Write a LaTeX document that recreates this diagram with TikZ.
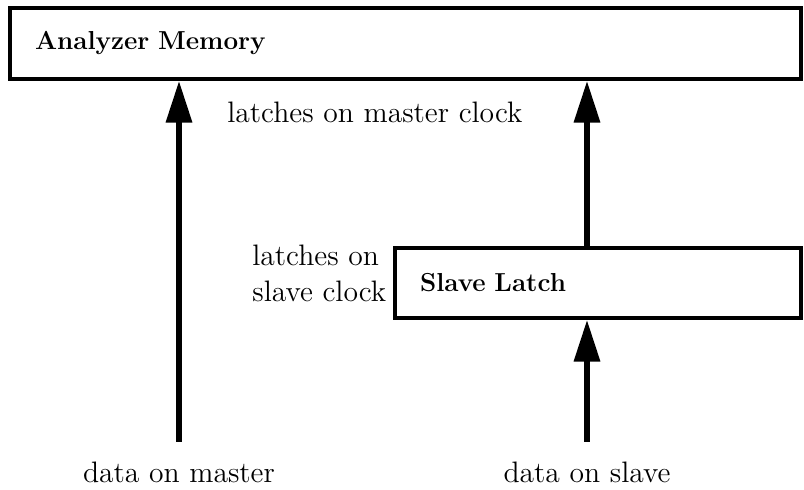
\documentclass[tikz,border=0pt]{standalone}
\usepackage{tikz}
\usetikzlibrary{arrows.meta}

\begin{document}
\begin{tikzpicture}[x=0.5pt, y=-0.5pt,
                    unit/.style={draw, line width=1.6pt, align=left, inner xsep=12.5pt,
                                 font=\fontsize{13}{15}\selectfont\bfseries},
                    note/.style={font=\fontsize{14.8}{18}\selectfont, inner sep=0pt},
                    flow/.style={line width=3.2pt, -{Triangle[width=12.5pt, length=21pt]}}]
                    \useasboundingbox (0,0) rectangle (804,490);

                    % Boxes
                    \node[unit, minimum width=395.5pt, minimum height=35.5pt, text width=370.5pt]
                        (mem) at (405.5, 43.5) {Analyzer Memory};
                    \node[unit, minimum width=203pt, minimum height=35pt, text width=178pt]
                        (slave) at (598, 283) {Slave Latch};

                    % Labels
                    \node[note, anchor=base west] (mclock) at (227, 123) {latches on master clock};
                    \node[note, anchor=base west, align=left] (sclock) at (252, 302)
                        {latches on\\slave clock};
                    \node[note, anchor=base] (dmaster) at (179, 483) {data on master};
                    \node[note, anchor=base] (dslave) at (587, 483) {data on slave};

                    % Arrows
                    \coordinate (mfoot) at (179, 442);
                    \coordinate (sfoot) at (587, 442);
                    \draw[flow] (mfoot) -- (mfoot |- mem.south);
                    \draw[flow] (sfoot) -- (sfoot |- slave.south);
                    \draw[flow] (sfoot |- slave.north) -- (sfoot |- mem.south);
                \end{tikzpicture}
\end{document}
